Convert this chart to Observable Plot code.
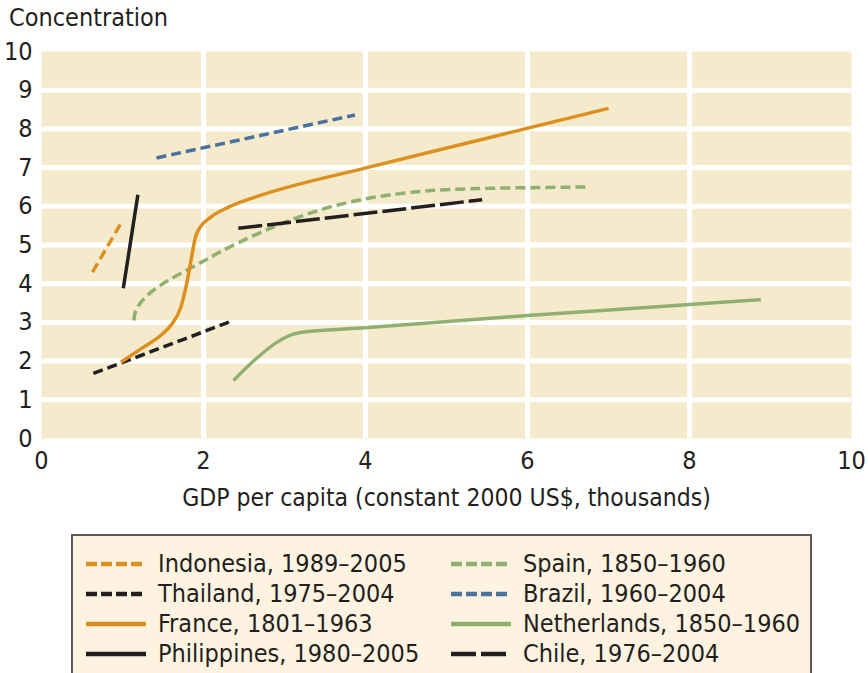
<!DOCTYPE html>
<html><head><meta charset="utf-8">
<script src="https://cdn.jsdelivr.net/npm/d3@7"></script>
<script src="https://cdn.jsdelivr.net/npm/@observablehq/plot@0.6"></script>
<style>
body{margin:0;background:#fff;}
#wrap{position:relative;width:868px;height:673px;overflow:hidden;font-family:"Liberation Sans Narrow","DejaVu Sans Condensed",sans-serif;color:#231f20;}
#title{position:absolute;left:9px;top:3px;font-size:25px;line-height:30px;}
#chart{position:absolute;left:0;top:0;}
#legend{position:absolute;left:71px;top:534px;width:737px;height:160px;border:2px solid #5a5a5a;background:#fdf3e0;}
.item{position:absolute;height:30px;line-height:30px;font-size:25px;white-space:nowrap;}
.item svg{position:absolute;left:0;top:0;}
.item span{position:absolute;top:0;}
</style></head>
<body>
<div id="wrap">
  <div id="chart"></div>
  <div id="title">Concentration</div>
  <div id="legend"></div>
</div>
<script>
// ---- data (GDP per capita, thousands; concentration) ----
const xTicks = [0, 2, 4, 6, 8, 10];
const yTicks = [0, 1, 2, 3, 4, 5, 6, 7, 8, 9, 10];
const xGridLines = [2, 4, 6, 8];
const yGridLines = [1, 2, 3, 4, 5, 6, 7, 8, 9];
const titleText = "Concentration";
const xLabelText = "GDP per capita (constant 2000 US$, thousands)";

const seriesNames = [
  "Indonesia, 1989–2005", "Thailand, 1975–2004", "France, 1801–1963", "Philippines, 1980–2005",
  "Spain, 1850–1960", "Brazil, 1960–2004", "Netherlands, 1850–1960", "Chile, 1976–2004"
];
const indonesia = [[0.63, 4.3], [0.98, 5.56]];
const thailand = [[0.64, 1.68], [2.33, 3.02]];
const france = [[0.98, 1.97], [1.26, 2.36], [1.47, 2.66], [1.61, 2.96], [1.72, 3.39], [1.8, 4.08], [1.86, 4.77], [1.9, 5.2], [1.96, 5.46], [2.09, 5.72], [2.31, 5.98], [2.7, 6.28], [3.98, 6.98], [5.5, 7.76], [7.0, 8.53]];
const philippines = [[1.01, 3.88], [1.19, 6.3]];
const spain = [[1.14, 3.05], [1.15, 3.25], [1.19, 3.42], [1.3, 3.72], [1.55, 4.08], [1.84, 4.4], [2.09, 4.69], [2.31, 4.94], [2.7, 5.33], [3.2, 5.76], [3.81, 6.15], [4.64, 6.41], [5.46, 6.47], [6.74, 6.5]];
const brazil = [[1.42, 7.25], [3.87, 8.36]];
const netherlands = [[2.37, 1.5], [2.67, 2.1], [2.91, 2.49], [3.06, 2.66], [3.24, 2.75], [4.0, 2.86], [6.0, 3.18], [8.0, 3.46], [8.88, 3.59]];
const chile = [[2.43, 5.43], [5.44, 6.17]];

const seriesData = [indonesia, thailand, france, philippines, spain, brazil, netherlands, chile];

// ---- styles ----
const orange = "#dc9020", black = "#231f20", green = "#8fb070", blue = "#4a72a0";
const seriesStyle = [
  {color: orange, dash: "10,5", curve: "linear"},
  {color: black, dash: "10,5", curve: "linear"},
  {color: orange, dash: null, curve: "monotone-x"},
  {color: black, dash: null, curve: "linear"},
  {color: green, dash: "10,5", curve: "basis"},
  {color: blue, dash: "10,5", curve: "linear"},
  {color: green, dash: null, curve: "monotone-x"},
  {color: black, dash: "24,5", curve: "linear"}
];
const drawOrder = [6, 4, 5, 7, 1, 0, 3, 2];
const font = '"Liberation Sans Narrow","DejaVu Sans Condensed",sans-serif';

const lineMarks = drawOrder.map(i => {
  const st = seriesStyle[i];
  const rows = seriesData[i].map(([x, y]) => ({x, y, name: seriesNames[i]}));
  const opts = {x: "x", y: "y", stroke: st.color, strokeWidth: 3.5, curve: st.curve, strokeLinecap: "butt"};
  if (st.dash) opts.strokeDasharray = st.dash;
  return Plot.line(rows, opts);
});

const chart = Plot.plot({
  width: 868,
  height: 530,
  marginTop: 51,
  marginBottom: 92,
  marginLeft: 41,
  marginRight: 17,
  style: {fontFamily: font, fontSize: "24px", color: "#231f20", background: "transparent", overflow: "visible"},
  x: {domain: [0, 10], label: null},
  y: {domain: [0, 10], label: null},
  marks: [
    Plot.frame({fill: "#f5eacb", stroke: null}),
    Plot.gridX(xGridLines, {stroke: "#ffffff", strokeOpacity: 1, strokeWidth: 5}),
    Plot.gridY(yGridLines, {stroke: "#ffffff", strokeOpacity: 1, strokeWidth: 5}),
    ...lineMarks,
    Plot.axisX(xTicks, {tickSize: 0, tickPadding: 13, label: null, fontSize: 25}),
    Plot.axisY(yTicks, {tickSize: 0, tickPadding: 9, label: null, fontSize: 25}),
    Plot.text([xLabelText], {frameAnchor: "bottom", dy: 60, text: d => d, fontSize: 24.5, textAnchor: "middle", lineAnchor: "middle", fill: "#231f20"})
  ]
});
document.getElementById("chart").appendChild(chart);
document.getElementById("title").textContent = titleText;

// ---- legend ----
const legend = document.getElementById("legend");
const legendCols = [[0, 1, 2, 3], [4, 5, 6, 7]];
const colX = [13, 378];
legendCols.forEach((col, c) => {
  col.forEach((i, r) => {
    const st = seriesStyle[i];
    const div = document.createElement("div");
    div.className = "item";
    div.style.left = colX[c] + "px";
    div.style.top = (13 + 30 * r) + "px";
    div.style.width = "360px";
    const dash = st.dash ? (i === 7 ? "25,5" : "11,4") : null;
    div.innerHTML = `<svg width="62" height="30"><line x1="0" x2="60" y1="15" y2="15" stroke="${st.color}" stroke-width="4.5" ${dash ? `stroke-dasharray="${dash}"` : ""}/></svg><span style="left:72px">${seriesNames[i]}</span>`;
    legend.appendChild(div);
  });
});
</script>
</body></html>
